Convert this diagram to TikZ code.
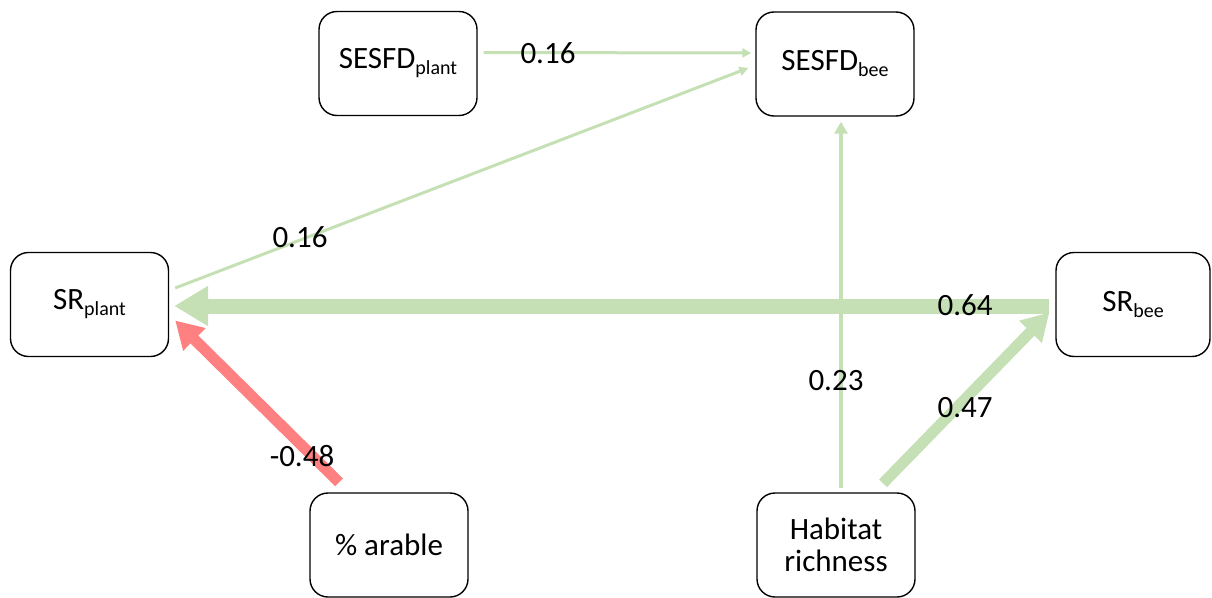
\documentclass[tikz,border=0pt]{standalone}
\usepackage{fontspec}
\setmainfont{Carlito}
\usetikzlibrary{arrows.meta,calc}
\definecolor{pathgreen}{HTML}{C5E0B4}
\definecolor{pathred}{HTML}{FF8080}
\newcommand{\sub}[1]{{\fontsize{20}{20}\selectfont\raisebox{-6pt}{#1}}}
\tikzset{
  var/.style={draw=black, line width=1.4pt, rounded corners=18pt, fill=white,
    minimum width=158pt, minimum height=104pt, align=center,
    font=\fontsize{31}{36}\selectfont, inner sep=0pt},
  coef/.style={font=\fontsize{31}{36}\selectfont, inner sep=0pt},
  thinpath/.style={draw=pathgreen, line width=3pt,
    -{Triangle[length=9pt,width=9pt]}},
  midpath/.style={draw=pathgreen, line width=4.5pt,
    -{Triangle[length=12pt,width=13pt]}},
  widepath/.style={line width=11pt, -{Triangle[length=27pt,width=30pt]}},
  boldpath/.style={draw=pathgreen, line width=15pt,
    -{Triangle[length=34pt,width=38pt]}},
}
\begin{document}
\begin{tikzpicture}[x=1pt,y=-1pt]
\useasboundingbox (0,0) rectangle (1212,597);

% variables
\node[var] (SESFDp) at (398,63.5) {SESFD\sub{plant}};
\node[var] (SESFDb) at (835,64) {SESFD\sub{bee}};
\node[var] (SRp)    at (89.5,304.5) {SR\sub{plant}};
\node[var, minimum width=154pt] (SRb) at (1133,304.5) {SR\sub{bee}};
\node[var] (arable) at (389,545) {\% arable};
\node[var] (habitat) at (836,545) {Habitat\\[-4pt]richness};

% anchor points for path ends
\coordinate (p1s) at ($(SESFDp.east)+(6,-11)$);
\coordinate (p1e) at ($(SESFDb.west)+(-4,-11)$);
\coordinate (p2s) at ($(SRp.east)+(6,-16.5)$);
\coordinate (p2e) at ($(SESFDb.west)+(-7,4)$);
\coordinate (p3s) at ($(habitat.north)+(5,-4)$);
\coordinate (p3e) at ($(SESFDb.south)+(6,5)$);
\coordinate (p4s) at ($(SRb.west)+(-6,1.5)$);
\coordinate (p4e) at ($(SRp.east)+(5,1.5)$);
\coordinate (p5s) at ($(habitat.north)+(47,-9)$);
\coordinate (p5e) at ($(SRb.west)+(-6,8)$);
\coordinate (p6s) at ($(arable.north)+(-50,-10)$);
\coordinate (p6e) at ($(SRp.east)+(6,16)$);

% paths
\draw[thinpath] (p1s) -- (p1e);
\draw[thinpath] (p2s) -- (p2e);
\draw[midpath] (p3s) -- (p3e);
\draw[boldpath] (p4s) -- (p4e);
\draw[widepath, draw=pathgreen, fill=pathgreen] (p5s) -- (p5e);
\draw[widepath, draw=pathred, fill=pathred] (p6s) -- (p6e);

% path coefficients
\node[coef] (c1) at (548,53) {0.16};
\node[coef] (c2) at (300,237) {0.16};
\node[coef] (c3) at (836,381) {0.23};
\node[coef] (c4) at (965,305) {0.64};
\node[coef] (c5) at (965,408) {0.47};
\node[coef] (c6) at (302,456) {-0.48};
\end{tikzpicture}
\end{document}
